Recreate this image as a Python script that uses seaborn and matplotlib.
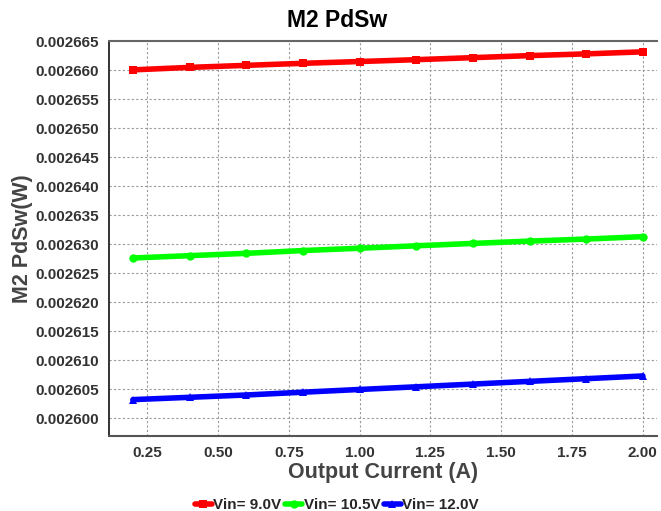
import matplotlib
matplotlib.use("Agg")
import matplotlib.pyplot as plt
import numpy as np
import pandas as pd
import seaborn as sns

# data
current = [0.2, 0.4, 0.6, 0.8, 1.0, 1.2, 1.4, 1.6, 1.8, 2.0]
pdsw_9v0 = [0.0026601, 0.00266053, 0.00266088, 0.00266123, 0.00266154,
            0.00266186, 0.00266221, 0.00266256, 0.00266286, 0.00266321]
pdsw_10v5 = [0.00262767, 0.00262807, 0.00262847, 0.00262895, 0.00262935,
             0.00262977, 0.00263018, 0.00263058, 0.00263093, 0.00263135]
pdsw_12v0 = [0.00260325, 0.00260365, 0.00260405, 0.00260453, 0.002605,
             0.00260546, 0.00260593, 0.0026064, 0.00260686, 0.00260733]
series_names = ["Vin= 9.0V", "Vin= 10.5V", "Vin= 12.0V"]
x_ticks = [0.25, 0.50, 0.75, 1.00, 1.25, 1.50, 1.75, 2.00]
y_ticks = [0.002600 + 0.000005 * i for i in range(14)]

df = pd.concat([
    pd.DataFrame({"current": current, "pdsw": vals, "vin": name})
    for name, vals in zip(series_names, [pdsw_9v0, pdsw_10v5, pdsw_12v0])
])

sns.set_style("white")
plt.rcParams["font.family"] = ["Liberation Sans", "DejaVu Sans"]

fig = plt.figure(figsize=(6.61, 5.11), dpi=100)
ax = fig.add_axes([0.165, 0.147, 0.829, 0.773])

palette = {"Vin= 9.0V": "#ff0000", "Vin= 10.5V": "#00ff00", "Vin= 12.0V": "#0000ff"}
markers = {"Vin= 9.0V": "s", "Vin= 10.5V": "o", "Vin= 12.0V": "^"}
sns.lineplot(data=df, x="current", y="pdsw", hue="vin", style="vin",
             palette=palette, markers=markers, dashes=False, markersize=6,
             linewidth=4, markeredgewidth=0, ax=ax)

ax.set_xlim(0.116, 2.05)
ax.set_ylim(0.002597, 0.0026651)
ax.set_xticks(x_ticks)
ax.set_xticklabels([f"{t:.2f}" for t in x_ticks])
ax.set_yticks(y_ticks)
ax.set_yticklabels([f"{t:.6f}" for t in y_ticks])
ax.tick_params(axis="both", labelsize=11, labelcolor="#333333", length=0, pad=7)
for lab in ax.get_xticklabels() + ax.get_yticklabels():
    lab.set_fontweight("bold")

ax.grid(True, linestyle=(0, (2, 2)), color="#999999", linewidth=0.8)

ax.spines["right"].set_visible(False)
ax.spines["left"].set_color("#111111")
ax.spines["left"].set_linewidth(1.2)
ax.spines["bottom"].set_color("#555555")
ax.spines["bottom"].set_linewidth(1.5)
ax.spines["top"].set_color("#666666")
ax.spines["top"].set_linewidth(1.5)

ax.set_title("M2 PdSw", fontsize=16.5, fontweight="bold", color="black", x=0.416, pad=10)
ax.set_xlabel("Output Current (A)", fontsize=15.5, fontweight="bold", color="#444444", labelpad=2)
ax.set_ylabel("M2 PdSw(W)", fontsize=15.5, fontweight="bold", color="#444444", labelpad=2)

handles, labels = ax.get_legend_handles_labels()
ax.legend(handles, labels, loc="center", bbox_to_anchor=(0.416, -0.175),
          ncol=3, frameon=False, handlelength=1.1, handletextpad=0.1,
          columnspacing=0.25, borderpad=0.1, prop={"weight": "bold", "size": 11})

fig.savefig("out.png", dpi=100)
